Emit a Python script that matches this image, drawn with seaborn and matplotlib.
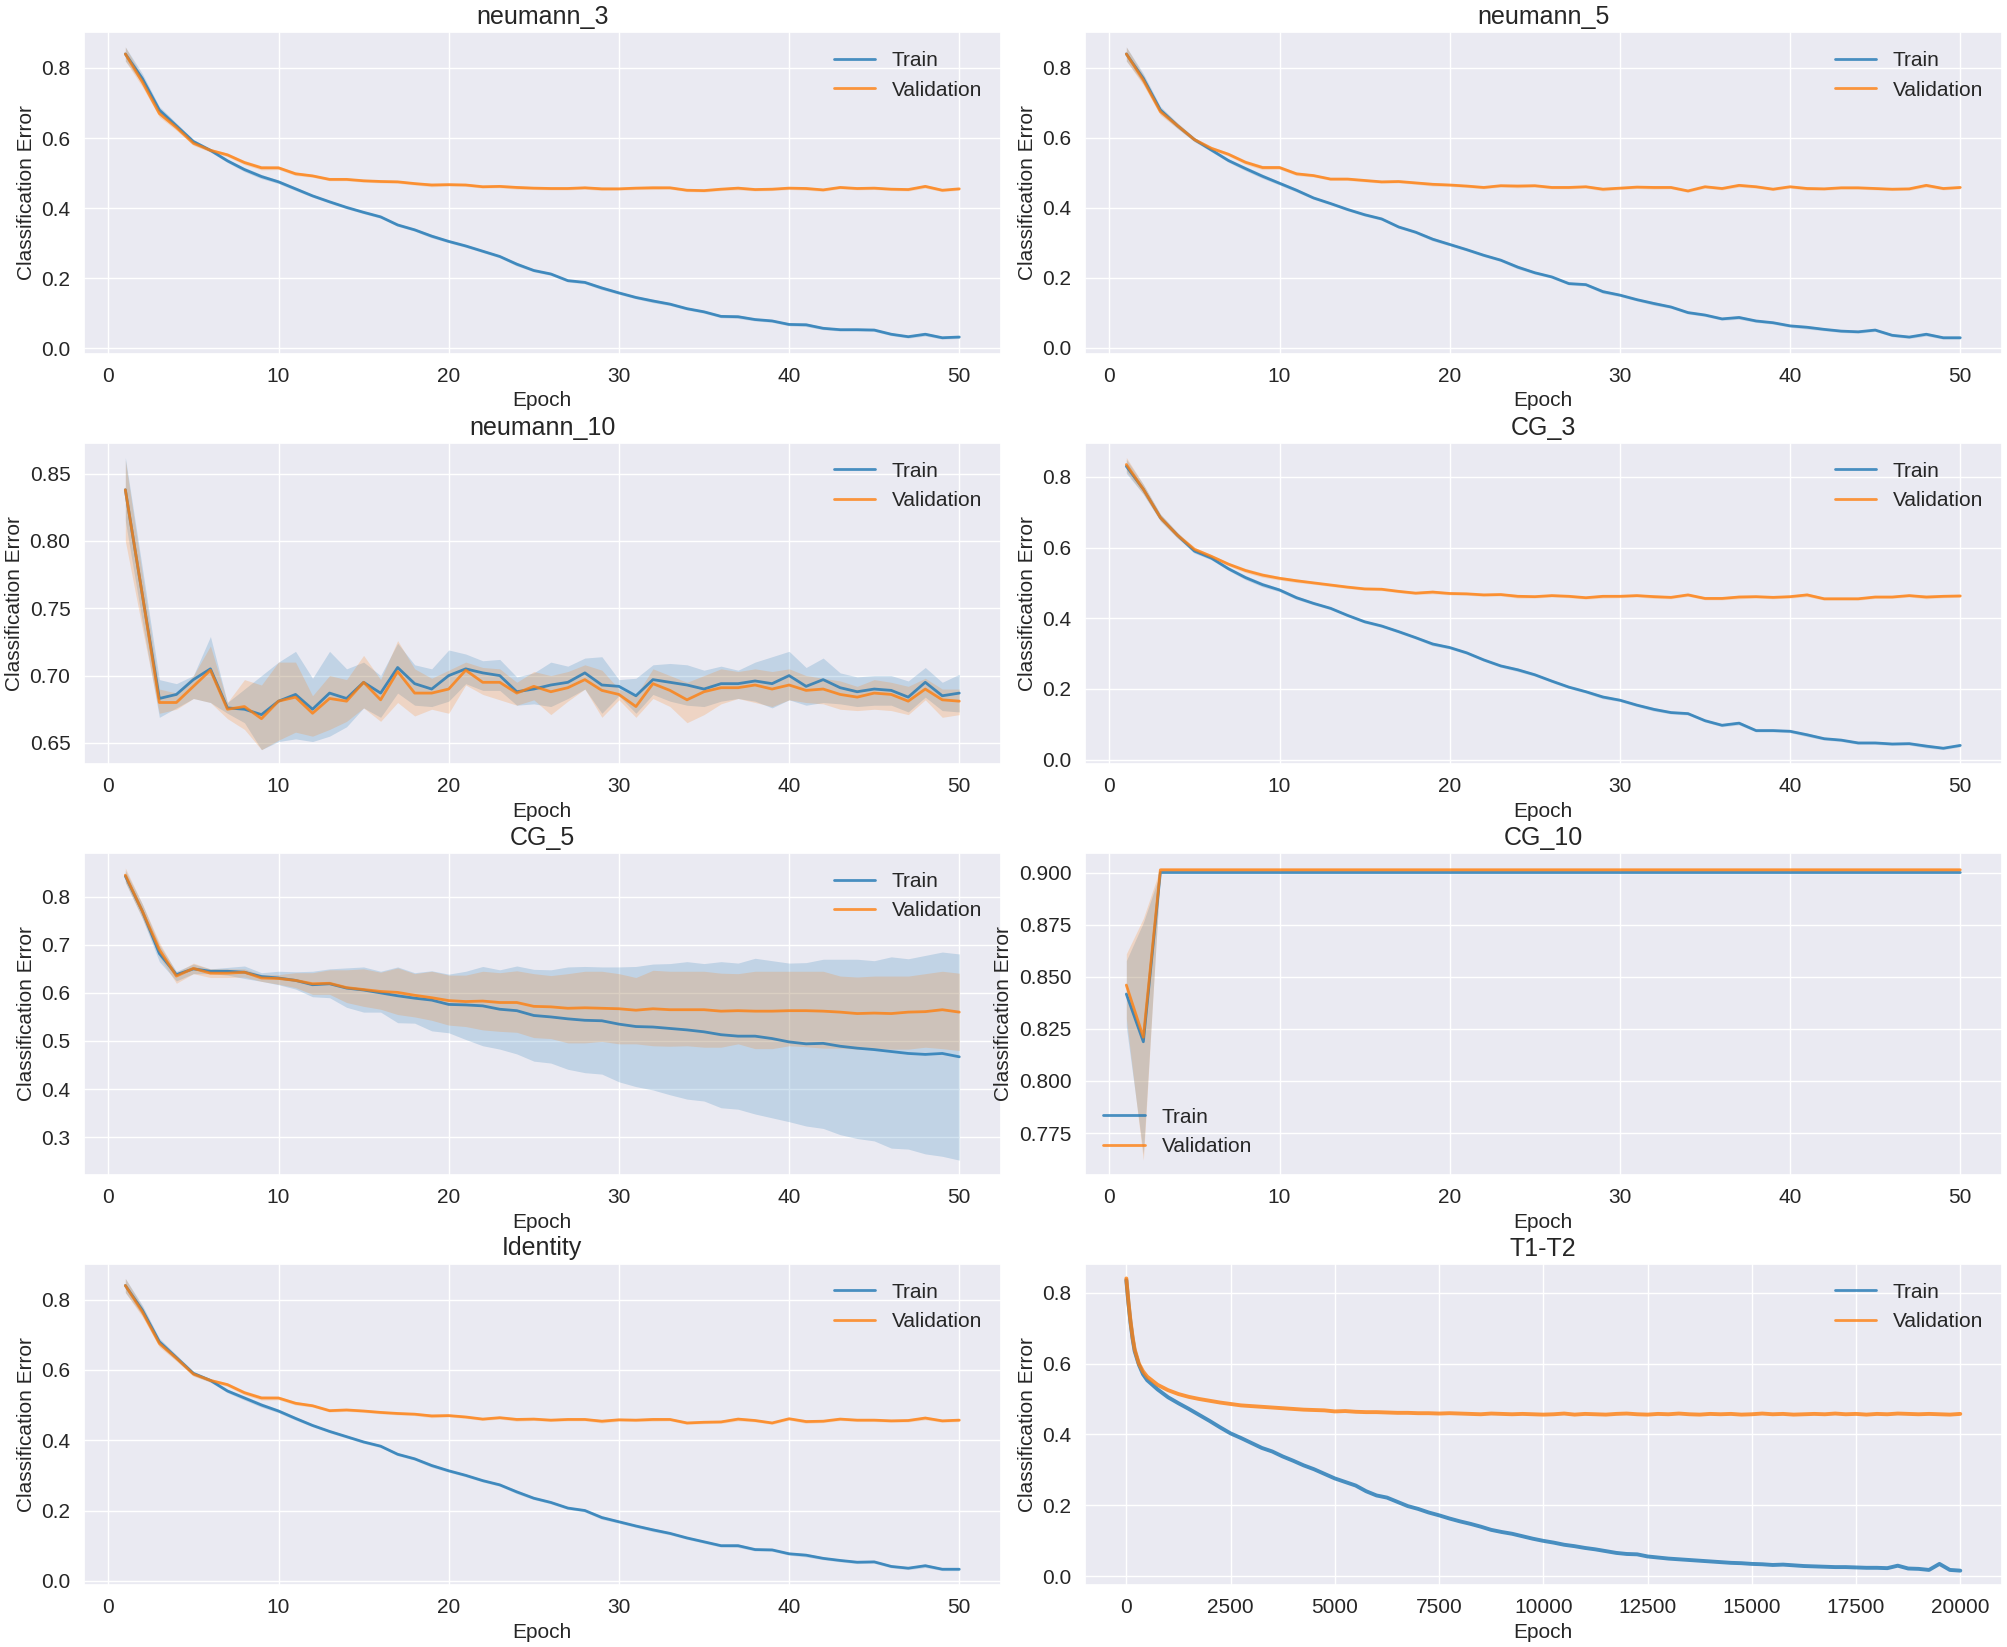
import numpy as np
import pandas as pd
import matplotlib
matplotlib.use("Agg")
import matplotlib.pyplot as plt
import seaborn as sns

sns.set_theme(style="darkgrid")
plt.rcParams['font.family'] = ['Liberation Sans', 'DejaVu Sans']

epochs = list(range(1, 51))

# ---- neumann_3 ----
n3_train = [0.840, 0.770, 0.680, 0.635, 0.590, 0.565, 0.535, 0.510, 0.490, 0.475,
            0.455, 0.435, 0.418, 0.402, 0.388, 0.375, 0.352, 0.338, 0.320, 0.305,
            0.292, 0.277, 0.262, 0.240, 0.222, 0.212, 0.193, 0.188, 0.172, 0.158,
            0.145, 0.135, 0.126, 0.113, 0.104, 0.091, 0.090, 0.082, 0.078, 0.068,
            0.067, 0.057, 0.053, 0.053, 0.052, 0.040, 0.033, 0.040, 0.030, 0.032]
n3_val = [0.840, 0.760, 0.670, 0.630, 0.585, 0.565, 0.552, 0.530, 0.515, 0.515,
          0.498, 0.492, 0.482, 0.482, 0.478, 0.476, 0.475, 0.470, 0.466, 0.467,
          0.466, 0.461, 0.462, 0.459, 0.457, 0.456, 0.456, 0.458, 0.455, 0.455,
          0.457, 0.458, 0.458, 0.451, 0.450, 0.454, 0.457, 0.453, 0.454, 0.457,
          0.456, 0.452, 0.459, 0.456, 0.457, 0.454, 0.453, 0.462, 0.451, 0.455]

# ---- neumann_5 ----
n5_train = [0.840, 0.770, 0.680, 0.635, 0.595, 0.565, 0.535, 0.512, 0.490, 0.470,
            0.450, 0.428, 0.412, 0.395, 0.380, 0.368, 0.345, 0.330, 0.310, 0.295,
            0.280, 0.264, 0.250, 0.230, 0.214, 0.202, 0.183, 0.180, 0.160, 0.150,
            0.137, 0.126, 0.116, 0.100, 0.093, 0.082, 0.086, 0.076, 0.071, 0.062,
            0.058, 0.052, 0.047, 0.045, 0.050, 0.035, 0.030, 0.038, 0.028, 0.028]
n5_val = [0.840, 0.765, 0.675, 0.635, 0.595, 0.570, 0.553, 0.530, 0.515, 0.515,
          0.497, 0.492, 0.482, 0.482, 0.478, 0.474, 0.475, 0.471, 0.467, 0.465,
          0.462, 0.458, 0.463, 0.462, 0.463, 0.458, 0.458, 0.460, 0.453, 0.456,
          0.459, 0.458, 0.458, 0.448, 0.460, 0.455, 0.464, 0.460, 0.453, 0.460,
          0.455, 0.454, 0.457, 0.457, 0.455, 0.453, 0.454, 0.464, 0.455, 0.458]

# ---- neumann_10 ----
n10_train = [0.838, 0.760, 0.683, 0.686, 0.697, 0.705, 0.676, 0.675, 0.671, 0.681,
             0.686, 0.675, 0.687, 0.683, 0.695, 0.687, 0.706, 0.694, 0.690, 0.700,
             0.705, 0.702, 0.700, 0.688, 0.690, 0.693, 0.695, 0.702, 0.693, 0.692,
             0.685, 0.697, 0.695, 0.693, 0.690, 0.694, 0.694, 0.696, 0.694, 0.700,
             0.692, 0.697, 0.691, 0.688, 0.690, 0.689, 0.684, 0.695, 0.685, 0.687]
n10_val = [0.838, 0.760, 0.680, 0.680, 0.692, 0.704, 0.675, 0.677, 0.668, 0.681,
           0.684, 0.672, 0.683, 0.681, 0.695, 0.682, 0.703, 0.687, 0.687, 0.690,
           0.704, 0.695, 0.695, 0.687, 0.692, 0.688, 0.691, 0.697, 0.689, 0.686,
           0.677, 0.694, 0.689, 0.682, 0.688, 0.691, 0.691, 0.693, 0.690, 0.693,
           0.689, 0.690, 0.686, 0.684, 0.687, 0.686, 0.681, 0.690, 0.682, 0.681]
n10_train_hi = [0.862, 0.780, 0.697, 0.694, 0.700, 0.729, 0.680, 0.690, 0.700, 0.710,
                0.718, 0.698, 0.718, 0.705, 0.710, 0.700, 0.724, 0.708, 0.705, 0.719,
                0.716, 0.711, 0.712, 0.699, 0.702, 0.710, 0.707, 0.713, 0.714, 0.697,
                0.698, 0.708, 0.709, 0.708, 0.704, 0.707, 0.704, 0.710, 0.714, 0.718,
                0.706, 0.713, 0.702, 0.699, 0.700, 0.700, 0.696, 0.706, 0.695, 0.701]
n10_train_lo = [0.815, 0.740, 0.669, 0.676, 0.683, 0.680, 0.672, 0.665, 0.645, 0.651,
                0.653, 0.651, 0.655, 0.662, 0.676, 0.669, 0.687, 0.678, 0.677, 0.681,
                0.694, 0.689, 0.689, 0.678, 0.679, 0.677, 0.683, 0.690, 0.672, 0.685,
                0.672, 0.686, 0.681, 0.678, 0.677, 0.681, 0.683, 0.681, 0.676, 0.682,
                0.678, 0.680, 0.679, 0.677, 0.678, 0.678, 0.673, 0.684, 0.674, 0.673]
n10_val_hi = [0.860, 0.775, 0.690, 0.687, 0.700, 0.722, 0.680, 0.697, 0.693, 0.710,
              0.710, 0.685, 0.700, 0.697, 0.715, 0.697, 0.726, 0.705, 0.698, 0.704,
              0.710, 0.706, 0.705, 0.695, 0.703, 0.700, 0.703, 0.708, 0.704, 0.690,
              0.685, 0.705, 0.700, 0.695, 0.700, 0.705, 0.703, 0.705, 0.703, 0.705,
              0.700, 0.698, 0.696, 0.692, 0.697, 0.695, 0.692, 0.698, 0.690, 0.690]
n10_val_lo = [0.800, 0.735, 0.672, 0.675, 0.683, 0.680, 0.668, 0.660, 0.645, 0.652,
              0.658, 0.655, 0.660, 0.666, 0.676, 0.666, 0.680, 0.670, 0.675, 0.672,
              0.693, 0.686, 0.682, 0.678, 0.682, 0.671, 0.681, 0.690, 0.669, 0.682,
              0.669, 0.683, 0.677, 0.665, 0.671, 0.679, 0.683, 0.680, 0.677, 0.682,
              0.680, 0.679, 0.675, 0.674, 0.675, 0.674, 0.671, 0.682, 0.669, 0.671]

# ---- CG_3 ----
cg3_train = [0.830, 0.765, 0.685, 0.635, 0.590, 0.570, 0.540, 0.515, 0.495, 0.480,
             0.458, 0.442, 0.428, 0.408, 0.390, 0.378, 0.362, 0.345, 0.327, 0.317,
             0.302, 0.282, 0.265, 0.254, 0.240, 0.222, 0.205, 0.192, 0.177, 0.168,
             0.154, 0.142, 0.133, 0.130, 0.110, 0.097, 0.103, 0.082, 0.082, 0.080,
             0.070, 0.059, 0.055, 0.047, 0.047, 0.044, 0.045, 0.038, 0.032, 0.040]
cg3_val = [0.835, 0.765, 0.685, 0.635, 0.595, 0.575, 0.553, 0.535, 0.522, 0.513,
           0.506, 0.500, 0.494, 0.488, 0.483, 0.482, 0.476, 0.471, 0.474, 0.470,
           0.469, 0.466, 0.467, 0.462, 0.461, 0.464, 0.462, 0.458, 0.462, 0.462,
           0.464, 0.461, 0.459, 0.466, 0.456, 0.456, 0.460, 0.461, 0.459, 0.461,
           0.466, 0.455, 0.455, 0.455, 0.460, 0.460, 0.464, 0.460, 0.462, 0.463]

# ---- CG_5 ----
cg5_train = [0.843, 0.770, 0.682, 0.638, 0.650, 0.645, 0.645, 0.643, 0.634, 0.631,
             0.626, 0.617, 0.619, 0.610, 0.606, 0.600, 0.594, 0.589, 0.585, 0.576,
             0.575, 0.573, 0.566, 0.563, 0.553, 0.550, 0.546, 0.543, 0.542, 0.535,
             0.530, 0.529, 0.526, 0.523, 0.519, 0.513, 0.510, 0.510, 0.505, 0.498,
             0.494, 0.495, 0.489, 0.485, 0.482, 0.478, 0.474, 0.472, 0.474, 0.467]
cg5_val = [0.845, 0.770, 0.690, 0.635, 0.651, 0.641, 0.641, 0.643, 0.631, 0.630,
           0.626, 0.619, 0.620, 0.611, 0.607, 0.603, 0.601, 0.595, 0.590, 0.584,
           0.582, 0.583, 0.580, 0.580, 0.572, 0.571, 0.568, 0.569, 0.568, 0.567,
           0.564, 0.567, 0.565, 0.565, 0.565, 0.562, 0.563, 0.562, 0.562, 0.563,
           0.563, 0.562, 0.560, 0.557, 0.558, 0.557, 0.560, 0.561, 0.565, 0.560]
cg5_train_hi = [0.855, 0.785, 0.700, 0.645, 0.660, 0.650, 0.653, 0.656, 0.642, 0.645,
                0.644, 0.645, 0.650, 0.652, 0.654, 0.645, 0.654, 0.642, 0.646, 0.639,
                0.645, 0.655, 0.648, 0.656, 0.649, 0.648, 0.654, 0.655, 0.654, 0.654,
                0.655, 0.660, 0.661, 0.665, 0.661, 0.665, 0.662, 0.672, 0.667, 0.662,
                0.663, 0.670, 0.670, 0.670, 0.667, 0.675, 0.671, 0.678, 0.685, 0.681]
cg5_train_lo = [0.830, 0.755, 0.665, 0.625, 0.640, 0.640, 0.637, 0.630, 0.624, 0.617,
                0.608, 0.592, 0.590, 0.570, 0.560, 0.560, 0.538, 0.537, 0.521, 0.517,
                0.503, 0.490, 0.483, 0.473, 0.458, 0.454, 0.441, 0.434, 0.431, 0.415,
                0.405, 0.398, 0.388, 0.379, 0.375, 0.361, 0.358, 0.348, 0.340, 0.332,
                0.323, 0.318, 0.305, 0.297, 0.292, 0.277, 0.275, 0.265, 0.260, 0.252]
cg5_val_hi = [0.860, 0.785, 0.705, 0.642, 0.662, 0.650, 0.650, 0.650, 0.638, 0.638,
              0.642, 0.642, 0.648, 0.648, 0.650, 0.643, 0.652, 0.640, 0.645, 0.637,
              0.637, 0.645, 0.642, 0.646, 0.640, 0.636, 0.640, 0.645, 0.645, 0.640,
              0.632, 0.647, 0.645, 0.645, 0.645, 0.641, 0.640, 0.645, 0.645, 0.645,
              0.645, 0.645, 0.635, 0.633, 0.635, 0.635, 0.635, 0.640, 0.645, 0.641]
cg5_val_lo = [0.830, 0.755, 0.675, 0.620, 0.640, 0.632, 0.632, 0.633, 0.624, 0.618,
              0.611, 0.597, 0.597, 0.580, 0.572, 0.566, 0.555, 0.550, 0.543, 0.533,
              0.530, 0.523, 0.520, 0.518, 0.507, 0.505, 0.496, 0.496, 0.499, 0.494,
              0.494, 0.490, 0.489, 0.490, 0.487, 0.487, 0.494, 0.484, 0.484, 0.490,
              0.488, 0.485, 0.485, 0.483, 0.484, 0.483, 0.483, 0.487, 0.484, 0.480]

# ---- CG_10 ----
cg10_train = [0.8417, 0.8188] + [0.9000] * 48
cg10_val = [0.8460, 0.8210] + [0.9013] * 48
cg10_train_hi = [0.8577, 0.8760] + [0.9000] * 48
cg10_train_lo = [0.8260, 0.7650] + [0.9000] * 48
cg10_val_hi = [0.8610, 0.8780] + [0.9022] * 48
cg10_val_lo = [0.8300, 0.7620] + [0.9005] * 48

# ---- Identity ----
id_train = [0.840, 0.770, 0.680, 0.635, 0.590, 0.570, 0.540, 0.520, 0.500, 0.483,
            0.462, 0.442, 0.425, 0.410, 0.395, 0.383, 0.360, 0.347, 0.328, 0.313,
            0.300, 0.285, 0.273, 0.253, 0.235, 0.223, 0.207, 0.200, 0.180, 0.168,
            0.156, 0.145, 0.135, 0.122, 0.111, 0.100, 0.100, 0.089, 0.088, 0.077,
            0.073, 0.064, 0.058, 0.053, 0.054, 0.041, 0.036, 0.043, 0.033, 0.033]
id_val = [0.840, 0.765, 0.675, 0.633, 0.588, 0.570, 0.558, 0.535, 0.520, 0.520,
          0.505, 0.498, 0.484, 0.486, 0.483, 0.479, 0.476, 0.474, 0.469, 0.470,
          0.466, 0.460, 0.464, 0.459, 0.460, 0.457, 0.459, 0.459, 0.454, 0.458,
          0.457, 0.459, 0.459, 0.449, 0.451, 0.452, 0.460, 0.456, 0.449, 0.461,
          0.453, 0.454, 0.460, 0.457, 0.457, 0.455, 0.456, 0.463, 0.455, 0.457]

# half-width of the (thin) confidence band on the smooth runs
narrow_band = [0.020, 0.014, 0.010, 0.008, 0.006, 0.005, 0.005, 0.006, 0.006, 0.005,
               0.005, 0.004, 0.004, 0.004, 0.004, 0.004, 0.004, 0.004, 0.005, 0.004,
               0.004, 0.004, 0.004, 0.005, 0.004, 0.004, 0.004, 0.004, 0.005, 0.004,
               0.004, 0.005, 0.004, 0.004, 0.004, 0.004, 0.005, 0.004, 0.004, 0.004,
               0.005, 0.004, 0.004, 0.004, 0.004, 0.004, 0.004, 0.005, 0.004, 0.004]

# ---- T1-T2 (long run, sampled) ----
t1_epochs = [0, 50, 100, 150, 200, 300, 400, 500, 750] + list(range(1000, 20001, 250))
t1_train = [0.835, 0.770, 0.715, 0.670, 0.635, 0.597, 0.570, 0.553, 0.527,
            0.505, 0.488, 0.472, 0.455, 0.438, 0.420, 0.403, 0.390, 0.376, 0.362,
            0.352, 0.338, 0.326, 0.313, 0.302, 0.289, 0.276, 0.266, 0.256, 0.240,
            0.228, 0.222, 0.210, 0.198, 0.190, 0.180, 0.172, 0.163, 0.155, 0.148,
            0.140, 0.131, 0.125, 0.120, 0.113, 0.106, 0.100, 0.095, 0.089, 0.085,
            0.080, 0.076, 0.071, 0.066, 0.063, 0.062, 0.056, 0.053, 0.050, 0.048,
            0.046, 0.044, 0.042, 0.040, 0.038, 0.037, 0.035, 0.034, 0.032, 0.033,
            0.031, 0.029, 0.028, 0.027, 0.026, 0.026, 0.025, 0.024, 0.024, 0.023,
            0.030, 0.022, 0.021, 0.018, 0.035, 0.018, 0.016]
t1_val = [0.840, 0.775, 0.720, 0.675, 0.640, 0.600, 0.578, 0.563, 0.540,
          0.525, 0.514, 0.506, 0.500, 0.495, 0.490, 0.486, 0.482, 0.480, 0.478,
          0.476, 0.474, 0.472, 0.470, 0.469, 0.468, 0.465, 0.466, 0.464, 0.463,
          0.463, 0.462, 0.461, 0.461, 0.460, 0.460, 0.459, 0.460, 0.459, 0.458,
          0.457, 0.459, 0.458, 0.457, 0.458, 0.457, 0.456, 0.457, 0.459, 0.456,
          0.458, 0.457, 0.456, 0.458, 0.459, 0.457, 0.456, 0.458, 0.457, 0.459,
          0.457, 0.456, 0.458, 0.457, 0.458, 0.456, 0.457, 0.459, 0.457, 0.458,
          0.456, 0.457, 0.458, 0.457, 0.459, 0.457, 0.458, 0.456, 0.458, 0.457,
          0.459, 0.458, 0.457, 0.458, 0.457, 0.456, 0.458]

blue = sns.color_palette("tab10")[0]
orange = sns.color_palette("tab10")[1]


def band(vals, half):
    return [v - h for v, h in zip(vals, half)], [v + h for v, h in zip(vals, half)]


n3_tb, n3_vb = band(n3_train, narrow_band), band(n3_val, narrow_band)
n5_tb, n5_vb = band(n5_train, narrow_band), band(n5_val, narrow_band)
cg3_tb, cg3_vb = band(cg3_train, narrow_band), band(cg3_val, narrow_band)
id_tb, id_vb = band(id_train, narrow_band), band(id_val, narrow_band)

panels = [
    ("neumann_3", epochs, n3_train, n3_val, n3_tb, n3_vb, "upper right"),
    ("neumann_5", epochs, n5_train, n5_val, n5_tb, n5_vb, "upper right"),
    ("neumann_10", epochs, n10_train, n10_val, (n10_train_lo, n10_train_hi),
     (n10_val_lo, n10_val_hi), "upper right"),
    ("CG_3", epochs, cg3_train, cg3_val, cg3_tb, cg3_vb, "upper right"),
    ("CG_5", epochs, cg5_train, cg5_val, (cg5_train_lo, cg5_train_hi),
     (cg5_val_lo, cg5_val_hi), "upper right"),
    ("CG_10", epochs, cg10_train, cg10_val, (cg10_train_lo, cg10_train_hi),
     (cg10_val_lo, cg10_val_hi), "lower left"),
    ("Identity", epochs, id_train, id_val, id_tb, id_vb, "upper right"),
    ("T1-T2", t1_epochs, t1_train, t1_val, None, None, "upper right"),
]

fig, axes = plt.subplots(4, 2, figsize=(20.07, 16.47), dpi=100)

for ax, (title, ep, tr, va, tband, vband, loc) in zip(axes.flat, panels):
    lw = 2.8 if tband is None else 2.0
    df = pd.DataFrame({"Epoch": ep, "Train": tr, "Validation": va})
    sns.lineplot(data=df, x="Epoch", y="Train", ax=ax, color=blue, alpha=0.8,
                 lw=lw, label="Train", errorbar=None)
    sns.lineplot(data=df, x="Epoch", y="Validation", ax=ax, color=orange, alpha=0.8,
                 lw=lw, label="Validation", errorbar=None)
    if tband is not None:
        ax.fill_between(ep, tband[0], tband[1], color=blue, alpha=0.2, lw=0)
        ax.fill_between(ep, vband[0], vband[1], color=orange, alpha=0.2, lw=0)
    ax.set_title(title, fontsize=18)
    ax.set_xlabel("Epoch", fontsize=15)
    ax.set_ylabel("Classification Error", fontsize=15)
    ax.tick_params(labelsize=15)
    leg = ax.legend(loc=loc, fontsize=15, frameon=False)
    for h in leg.get_lines():
        h.set_linewidth(2.0)

plt.tight_layout(pad=0.3)
plt.savefig("out.png", dpi=100)
